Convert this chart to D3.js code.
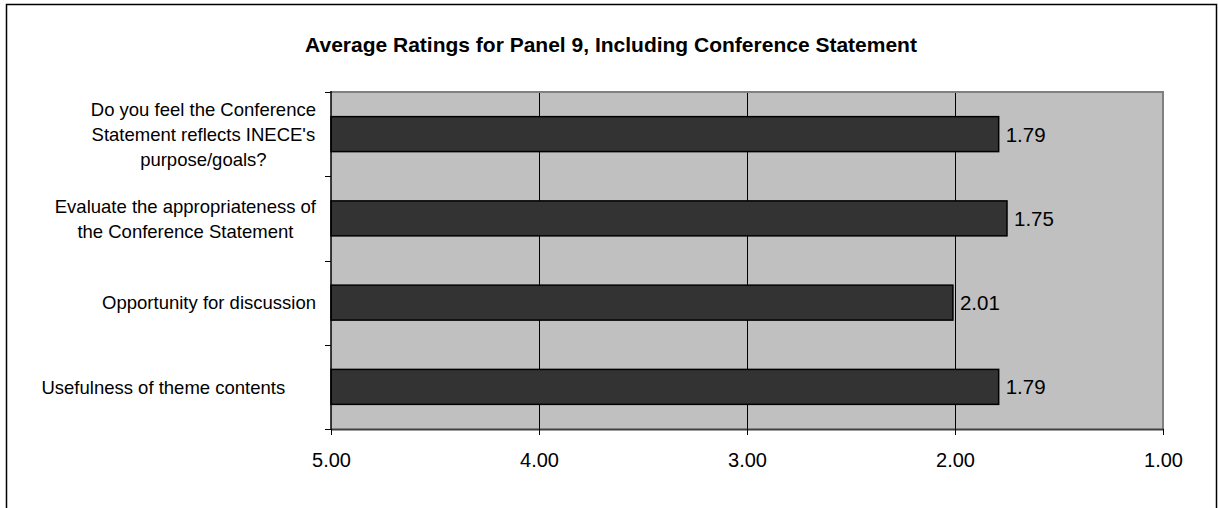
<!DOCTYPE html>
<html>
<head>
<meta charset="utf-8">
<script src="https://cdn.jsdelivr.net/npm/d3@7"></script>
<style>
  html, body { margin: 0; padding: 0; background: #ffffff; }
  svg { display: block; font-family: "Liberation Sans", Arial, sans-serif; }
</style>
</head>
<body>
<svg id="chart" width="1218" height="508"></svg>
<script>
// ---- data ----
const title = "Average Ratings for Panel 9, Including Conference Statement";
const categories = [
  "Do you feel the Conference Statement reflects INECE's purpose/goals?",
  "Evaluate the appropriateness of the Conference Statement",
  "Opportunity for discussion",
  "Usefulness of theme contents"
];
const categoryLines = [
  ["Do you feel the Conference", "Statement reflects INECE's", "purpose/goals?"],
  ["Evaluate the appropriateness of", "the Conference Statement"],
  ["Opportunity for discussion"],
  ["Usefulness of theme contents      "]
];
const values = [1.79, 1.75, 2.01, 1.79];
const tickValues = [5, 4, 3, 2, 1];
const tickLabels = ["5.00", "4.00", "3.00", "2.00", "1.00"];

// ---- layout ----
const svg = d3.select("#chart");
const plot = { left: 331, right: 1163, top: 92, bottom: 429 };

const x = d3.scaleLinear().domain([5, 1]).range([plot.left, plot.right]);
const y = d3.scaleBand().domain(categories).range([plot.top, plot.bottom])
  .paddingInner(0.585).paddingOuter(0.2925);

// outer border
svg.append("rect").attr("x", 6.5).attr("y", 4.5).attr("width", 1210).attr("height", 520)
  .attr("fill", "#fff").attr("stroke", "#000").attr("stroke-width", 1.5);

// title
svg.append("text").attr("x", 611).attr("y", 52).attr("text-anchor", "middle")
  .attr("font-weight", "bold").attr("font-size", 21).attr("fill", "#000").text(title);

// plot background
svg.append("rect").attr("x", plot.left).attr("y", plot.top)
  .attr("width", plot.right - plot.left).attr("height", plot.bottom - plot.top)
  .attr("fill", "#c0c0c0");

// gridlines
svg.append("g").selectAll("line").data(tickValues.slice(1, -1)).join("line")
  .attr("x1", d => Math.round(x(d)) + 0.5).attr("x2", d => Math.round(x(d)) + 0.5)
  .attr("y1", plot.top).attr("y2", plot.bottom)
  .attr("stroke", "#000").attr("stroke-width", 1);

// plot border top/right (gray)
svg.append("path")
  .attr("d", `M${plot.left},${plot.top} H${plot.right} V${plot.bottom}`)
  .attr("fill", "none").attr("stroke", "#808080").attr("stroke-width", 2);

// bars
svg.append("g").selectAll("rect").data(values).join("rect")
  .attr("x", x(5))
  .attr("y", (d, i) => y(categories[i]))
  .attr("width", d => x(d) - x(5))
  .attr("height", y.bandwidth())
  .attr("fill", "#333333").attr("stroke", "#000").attr("stroke-width", 1.5);

// value labels
svg.append("g").selectAll("text").data(values).join("text")
  .attr("x", d => x(d) + 7)
  .attr("y", (d, i) => y(categories[i]) + y.bandwidth() / 2)
  .attr("dy", "0.36em")
  .attr("font-size", 20.5).attr("fill", "#000")
  .text(d => d.toFixed(2));

// x axis
const xAxis = d3.axisBottom(x).tickValues(tickValues)
  .tickFormat((d, i) => tickLabels[i]).tickSize(6).tickSizeOuter(0).tickPadding(18);
const gx = svg.append("g").attr("transform", `translate(0,${plot.bottom})`).call(xAxis);
gx.select(".domain").attr("stroke", "#404040").attr("stroke-width", 2);
gx.selectAll(".tick line").attr("stroke", "#000");
gx.selectAll(".tick text").attr("font-size", 20).attr("fill", "#000")
  .attr("font-family", "Liberation Sans, Arial, sans-serif");

// y axis (boundary ticks)
const step = y.step();
const boundaries = d3.range(categories.length + 1).map(i => plot.top + i * step);
svg.append("line").attr("x1", plot.left).attr("x2", plot.left)
  .attr("y1", plot.top - 1).attr("y2", plot.bottom)
  .attr("stroke", "#000").attr("stroke-width", 1.5);
svg.append("g").selectAll("line").data(boundaries).join("line")
  .attr("x1", plot.left - 6).attr("x2", plot.left)
  .attr("y1", d => Math.round(d) + 0.5).attr("y2", d => Math.round(d) + 0.5)
  .attr("stroke", "#000").attr("stroke-width", 1);

// category labels
const labelRight = 316;
const lineH = 25;
const lg = svg.append("g").attr("font-size", 18.5).attr("fill", "#000");
categoryLines.forEach((lines, i) => {
  const cy = y(categories[i]) + y.bandwidth() / 2;
  const t = lg.append("text").attr("text-anchor", "middle").style("white-space", "pre");
  const spans = lines.map((ln, j) => t.append("tspan")
    .attr("y", cy + (j - (lines.length - 1) / 2) * lineH)
    .attr("dy", "0.36em").text(ln));
  const maxW = d3.max(spans, s => s.node().getComputedTextLength());
  spans.forEach(s => s.attr("x", labelRight - maxW / 2));
});
</script>
</body>
</html>
